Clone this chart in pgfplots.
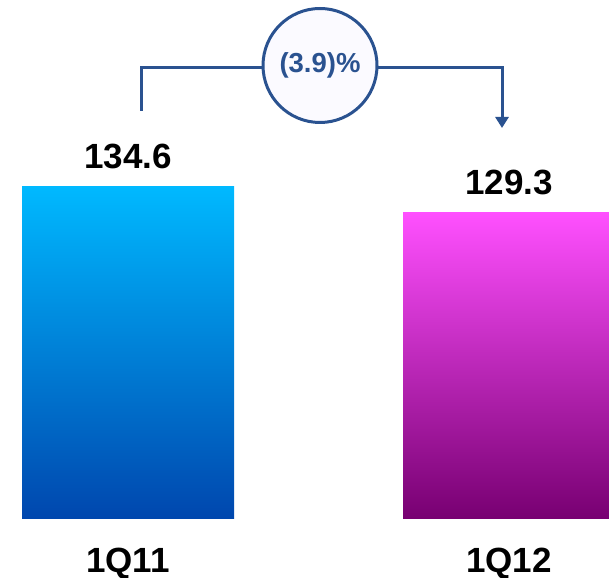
\documentclass[border=0pt]{standalone}
\usepackage{pgfplots}
\pgfplotsset{compat=1.18}
\usepackage{fontspec}
\setmainfont{Liberation Sans}
\usetikzlibrary{arrows.meta}
\definecolor{blueT}{HTML}{00B9FF}
\definecolor{blueB}{HTML}{0047AE}
\definecolor{magT}{HTML}{FF50FF}
\definecolor{magB}{HTML}{780072}
\definecolor{arrowblue}{HTML}{2A5290}
\definecolor{circfill}{HTML}{FBFAFF}
\begin{document}
\begin{tikzpicture}[x=1bp,y=1bp]
\path[use as bounding box] (0,-60) rectangle (609,518);
\begin{axis}[
  at={(0,0)}, anchor=south west,
  scale only axis, width=609bp, height=518bp,
  xmin=0, xmax=609, ymin=66.93, ymax=172.52,
  axis line style={draw=none}, major tick length=0pt,
  ytick=\empty,
  xtick={128,509}, xticklabels={1Q11,1Q12},
  xticklabel style={font=\fontsize{35bp}{40bp}\selectfont\bfseries, anchor=base, yshift=-54bp},
  ybar, bar width=212,
  /pgf/number format/assume math mode=true,
  /pgf/number format/fixed, /pgf/number format/precision=1,
  nodes near coords,
  every node near coord/.append style={font=\fontsize{35bp}{40bp}\selectfont\bfseries, anchor=base, yshift=18bp, black},
]
\addplot[draw=none, top color=blueT, bottom color=blueB, bar shift=0pt] coordinates {(128,134.6)};
\addplot[draw=none, top color=magT, bottom color=magB, bar shift=0pt] coordinates {(509,129.3)};
\end{axis}
\begin{scope}[line width=3bp, arrowblue]
\draw (141,518-110.7) -- (141,518-68) -- (262,518-68);
\draw[-{Triangle[length=11bp,width=13bp]}] (378,518-68) -- (502,518-68) -- (502,518-128);
\node[draw, fill=circfill, circle, minimum size=114bp, inner sep=0pt, font=\fontsize{27.5bp}{32bp}\selectfont\bfseries, text=arrowblue] at (320,518-65.5) {(3.9)\%};
\end{scope}
\end{tikzpicture}
\end{document}
